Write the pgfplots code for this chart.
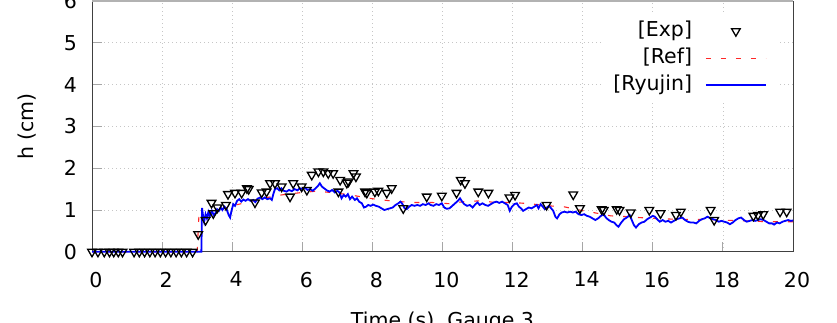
\documentclass[border=0pt]{standalone}
\usepackage{fontspec}
\setmainfont{DejaVu Sans}
\usepackage{pgfplots}
\pgfplotsset{compat=1.18}

\definecolor{refred}{RGB}{255,40,40}

\begin{document}
\begin{tikzpicture}[font=\fontsize{20.5}{24}\selectfont]
\useasboundingbox (-92pt,-70.2pt) rectangle (745pt,251.8pt);
\begin{axis}[
    name=ax,
    at={(0,0)}, anchor=south west,
    scale only axis,
    width=701pt, height=250.8pt,
    xmin=0, xmax=20, ymin=0, ymax=6,
    clip=false,
    xtick={0,2,...,20}, ytick={0,1,...,6},
    /pgf/number format/assume math mode=true,
    tick align=inside, xtick pos=bottom, ytick pos=left,
    major tick length=10pt,
    tick style={gray!70, line width=1pt},
    axis line style={black!75, line width=1pt},
    grid=major,
    grid style={gray!45, line width=0.8pt, dash pattern=on 1pt off 3pt},
    xticklabel style={anchor=north, inner sep=0pt, yshift=-20pt, xshift=4pt},
    yticklabel style={anchor=east, inner sep=0pt, xshift=-15pt},
    xlabel={Time (s), Gauge 3},
    ylabel={h (cm)},
    xlabel style={at={(axis description cs:0.5,-0.2392)}, anchor=north, inner sep=0pt},
    ylabel style={at={(axis description cs:-0.0927,0.5)}, anchor=center, inner sep=0pt},
    legend plot pos=right,
    legend cell align=right,
    legend image code/.code={\draw[mark repeat=2,mark phase=2,#1] plot coordinates {(0pt,0pt) (30pt,0pt) (60pt,0pt)};},
    legend style={draw=none, fill=white, at={(axis description cs:1,1)}, anchor=north east,
      xshift=-14pt, yshift=-14pt, inner xsep=12pt, inner ysep=6pt,
      column sep=13pt, row sep=7pt,
      nodes={inner sep=0pt, text height=15pt, text depth=5pt}},
]
\addplot[black, draw opacity=0, mark=triangle, mark size=5pt,
  mark options={rotate=180, draw=black, draw opacity=1, line width=1.3pt, fill=none}] coordinates {
(0,0) (0.17,0) (0.35,0) (0.5,0) (0.62,0) (0.75,0) (0.87,0)
(1.2,0) (1.35,0) (1.5,0) (1.65,0) (1.8,0) (1.95,0) (2.1,0) (2.25,0) (2.4,0) (2.55,0) (2.7,0) (2.87,0)
(3.03,0.42) (3.24,0.76) (3.41,1.17) (3.46,0.92) (3.58,1.06) (3.82,1.12) (3.88,1.38)
(4.08,1.41) (4.27,1.41) (4.42,1.52) (4.47,1.5) (4.65,1.18) (4.84,1.42) (4.98,1.44)
(5.08,1.64) (5.22,1.64) (5.41,1.56) (5.65,1.32) (5.74,1.64) (5.98,1.56)
(6.13,1.48) (6.27,1.84) (6.46,1.92) (6.6,1.92) (6.74,1.88) (6.88,1.88)
(7.03,1.44) (7.08,1.72) (7.27,1.65) (7.32,1.68) (7.46,1.88) (7.53,1.8)
(7.79,1.44) (7.84,1.41) (8.07,1.44) (8.17,1.46) (8.41,1.41) (8.55,1.52) (8.88,1.04)
(9.55,1.32) (9.98,1.34) (10.4,1.41) (10.52,1.72) (10.64,1.64) (11.02,1.44) (11.31,1.41)
(11.91,1.30) (12.07,1.36) (12.97,1.12) (13.73,1.37) (13.92,1.04)
(14.54,1.02) (14.6,1.0) (14.97,1.02) (15.05,1.0) (15.37,0.94) (15.9,1.0)
(16.22,0.92) (16.66,0.88) (16.8,0.96) (17.65,1.0) (17.75,0.76)
(18.87,0.86) (19.0,0.88) (19.15,0.9) (19.63,0.96) (19.82,0.96)
};
\addlegendentry{[Exp]}
\addplot[refred, line width=1.1pt, dash pattern=on 5pt off 10pt] coordinates {
(0,0) (3.0,0) (3.05,0.85) (3.3,0.92) (3.6,1.0) (4.0,1.1) (4.5,1.2) (5.0,1.3)
(5.4,1.36) (6.0,1.42) (6.4,1.45) (6.8,1.42) (7.3,1.37) (8.0,1.27) (8.5,1.22)
(9.1,1.18) (9.7,1.18) (10.2,1.15) (10.6,1.2) (11.1,1.22) (11.5,1.18) (12.0,1.18)
(12.5,1.15) (13.0,1.1) (13.45,1.08) (13.9,1.0) (14.3,0.94) (14.8,0.86) (15.3,0.84)
(15.6,0.82) (16.0,0.8) (16.6,0.78) (17.6,0.77) (18.6,0.74) (19.3,0.72) (20,0.72)
};
\addlegendentry{[Ref]}
\addplot[blue, line width=1.8pt] coordinates {
(0,0) (3.12,0) (3.14,1.05) (3.17,0.85) (3.2,0.72) (3.24,0.9) (3.28,0.8) (3.32,0.95)
(3.36,0.85) (3.42,0.98) (3.47,0.88) (3.52,0.92) (3.57,1.02) (3.62,0.98) (3.67,1.06)
(3.72,1.0) (3.78,1.08) (3.84,1.02) (3.9,0.88) (3.94,0.82) (3.98,0.98) (4.03,1.14)
(4.08,1.1) (4.14,1.22) (4.2,1.26) (4.26,1.2) (4.32,1.25) (4.38,1.22) (4.45,1.26)
(4.52,1.22) (4.6,1.24) (4.66,1.19) (4.72,1.27) (4.8,1.3) (4.86,1.26) (4.93,1.3)
(5.0,1.26) (5.08,1.28) (5.13,1.24) (5.18,1.4) (5.22,1.5) (5.28,1.52) (5.34,1.47)
(5.4,1.52) (5.47,1.46) (5.55,1.44) (5.62,1.48) (5.7,1.45) (5.78,1.5) (5.86,1.47)
(5.93,1.52) (6.0,1.5) (6.08,1.53) (6.15,1.48) (6.22,1.5) (6.3,1.46) (6.38,1.52)
(6.45,1.58) (6.5,1.64) (6.56,1.56) (6.62,1.52) (6.7,1.47) (6.78,1.44) (6.85,1.48)
(6.93,1.42) (7.0,1.46) (7.06,1.42) (7.12,1.28) (7.18,1.36) (7.24,1.32) (7.3,1.38)
(7.36,1.26) (7.42,1.32) (7.5,1.24) (7.56,1.28) (7.62,1.2) (7.7,1.16) (7.76,1.06)
(7.82,1.08) (7.88,1.12) (7.95,1.1) (8.02,1.13) (8.1,1.1) (8.18,1.08) (8.26,1.04)
(8.34,1.0) (8.42,1.02) (8.5,1.04) (8.58,1.06) (8.66,1.12) (8.74,1.16) (8.8,1.2)
(8.86,1.14) (8.92,1.04) (8.98,1.02) (9.05,1.08) (9.12,1.12) (9.2,1.1) (9.28,1.12)
(9.36,1.1) (9.44,1.14) (9.52,1.12) (9.6,1.16) (9.66,1.12) (9.74,1.1) (9.82,1.14)
(9.9,1.12) (9.98,1.16) (10.05,1.06) (10.12,1.03) (10.2,1.04) (10.28,1.1) (10.36,1.16)
(10.44,1.22) (10.5,1.28) (10.56,1.2) (10.62,1.14) (10.7,1.1) (10.78,1.12) (10.86,1.06)
(10.94,1.14) (11.0,1.18) (11.06,1.12) (11.14,1.16) (11.22,1.12) (11.3,1.1) (11.38,1.14)
(11.46,1.18) (11.54,1.2) (11.62,1.17) (11.7,1.2) (11.78,1.16) (11.86,1.12) (11.92,0.98)
(11.98,1.08) (12.05,1.14) (12.12,1.16) (12.18,1.08) (12.24,1.04) (12.3,0.98) (12.38,1.02)
(12.46,1.06) (12.54,1.04) (12.62,1.08) (12.69,1.12) (12.74,1.04) (12.8,1.14) (12.86,1.08)
(12.92,1.02) (12.98,1.06) (13.04,1.1) (13.1,1.04) (13.16,0.98) (13.22,0.84) (13.27,0.8)
(13.34,0.9) (13.4,0.94) (13.48,0.96) (13.56,0.94) (13.64,0.96) (13.72,0.94) (13.8,0.96)
(13.88,0.9) (13.96,0.88) (14.04,0.9) (14.12,0.86) (14.2,0.84) (14.28,0.8) (14.36,0.76)
(14.44,0.8) (14.52,0.86) (14.6,0.9) (14.66,0.82) (14.74,0.76) (14.82,0.72) (14.9,0.7)
(14.96,0.64) (15.02,0.6) (15.1,0.7) (15.18,0.78) (15.26,0.82) (15.34,0.88) (15.4,0.76)
(15.46,0.64) (15.52,0.58) (15.6,0.66) (15.68,0.7) (15.76,0.72) (15.84,0.78) (15.92,0.82)
(16.0,0.86) (16.06,0.84) (16.12,0.78) (16.2,0.72) (16.28,0.76) (16.36,0.72) (16.44,0.74)
(16.52,0.7) (16.6,0.74) (16.68,0.78) (16.76,0.8) (16.84,0.82) (16.92,0.76) (17.0,0.72)
(17.08,0.7) (17.16,0.7) (17.24,0.68) (17.32,0.74) (17.4,0.78) (17.48,0.8) (17.56,0.84)
(17.64,0.8) (17.72,0.78) (17.8,0.76) (17.88,0.72) (17.96,0.74) (18.04,0.72) (18.12,0.7)
(18.2,0.66) (18.28,0.7) (18.36,0.76) (18.44,0.8) (18.52,0.82) (18.6,0.76) (18.68,0.72)
(18.76,0.74) (18.84,0.76) (18.92,0.74) (19.0,0.76) (19.08,0.78) (19.16,0.76) (19.24,0.72)
(19.32,0.68) (19.4,0.68) (19.46,0.65) (19.54,0.7) (19.62,0.68) (19.7,0.72) (19.78,0.74)
(19.86,0.76) (19.94,0.74) (20,0.75)
};
\addlegendentry{[Ryujin]}
\end{axis}
\draw[gray!60, line width=1.5pt] (ax.north west) -- (ax.north east);
\end{tikzpicture}
\end{document}
